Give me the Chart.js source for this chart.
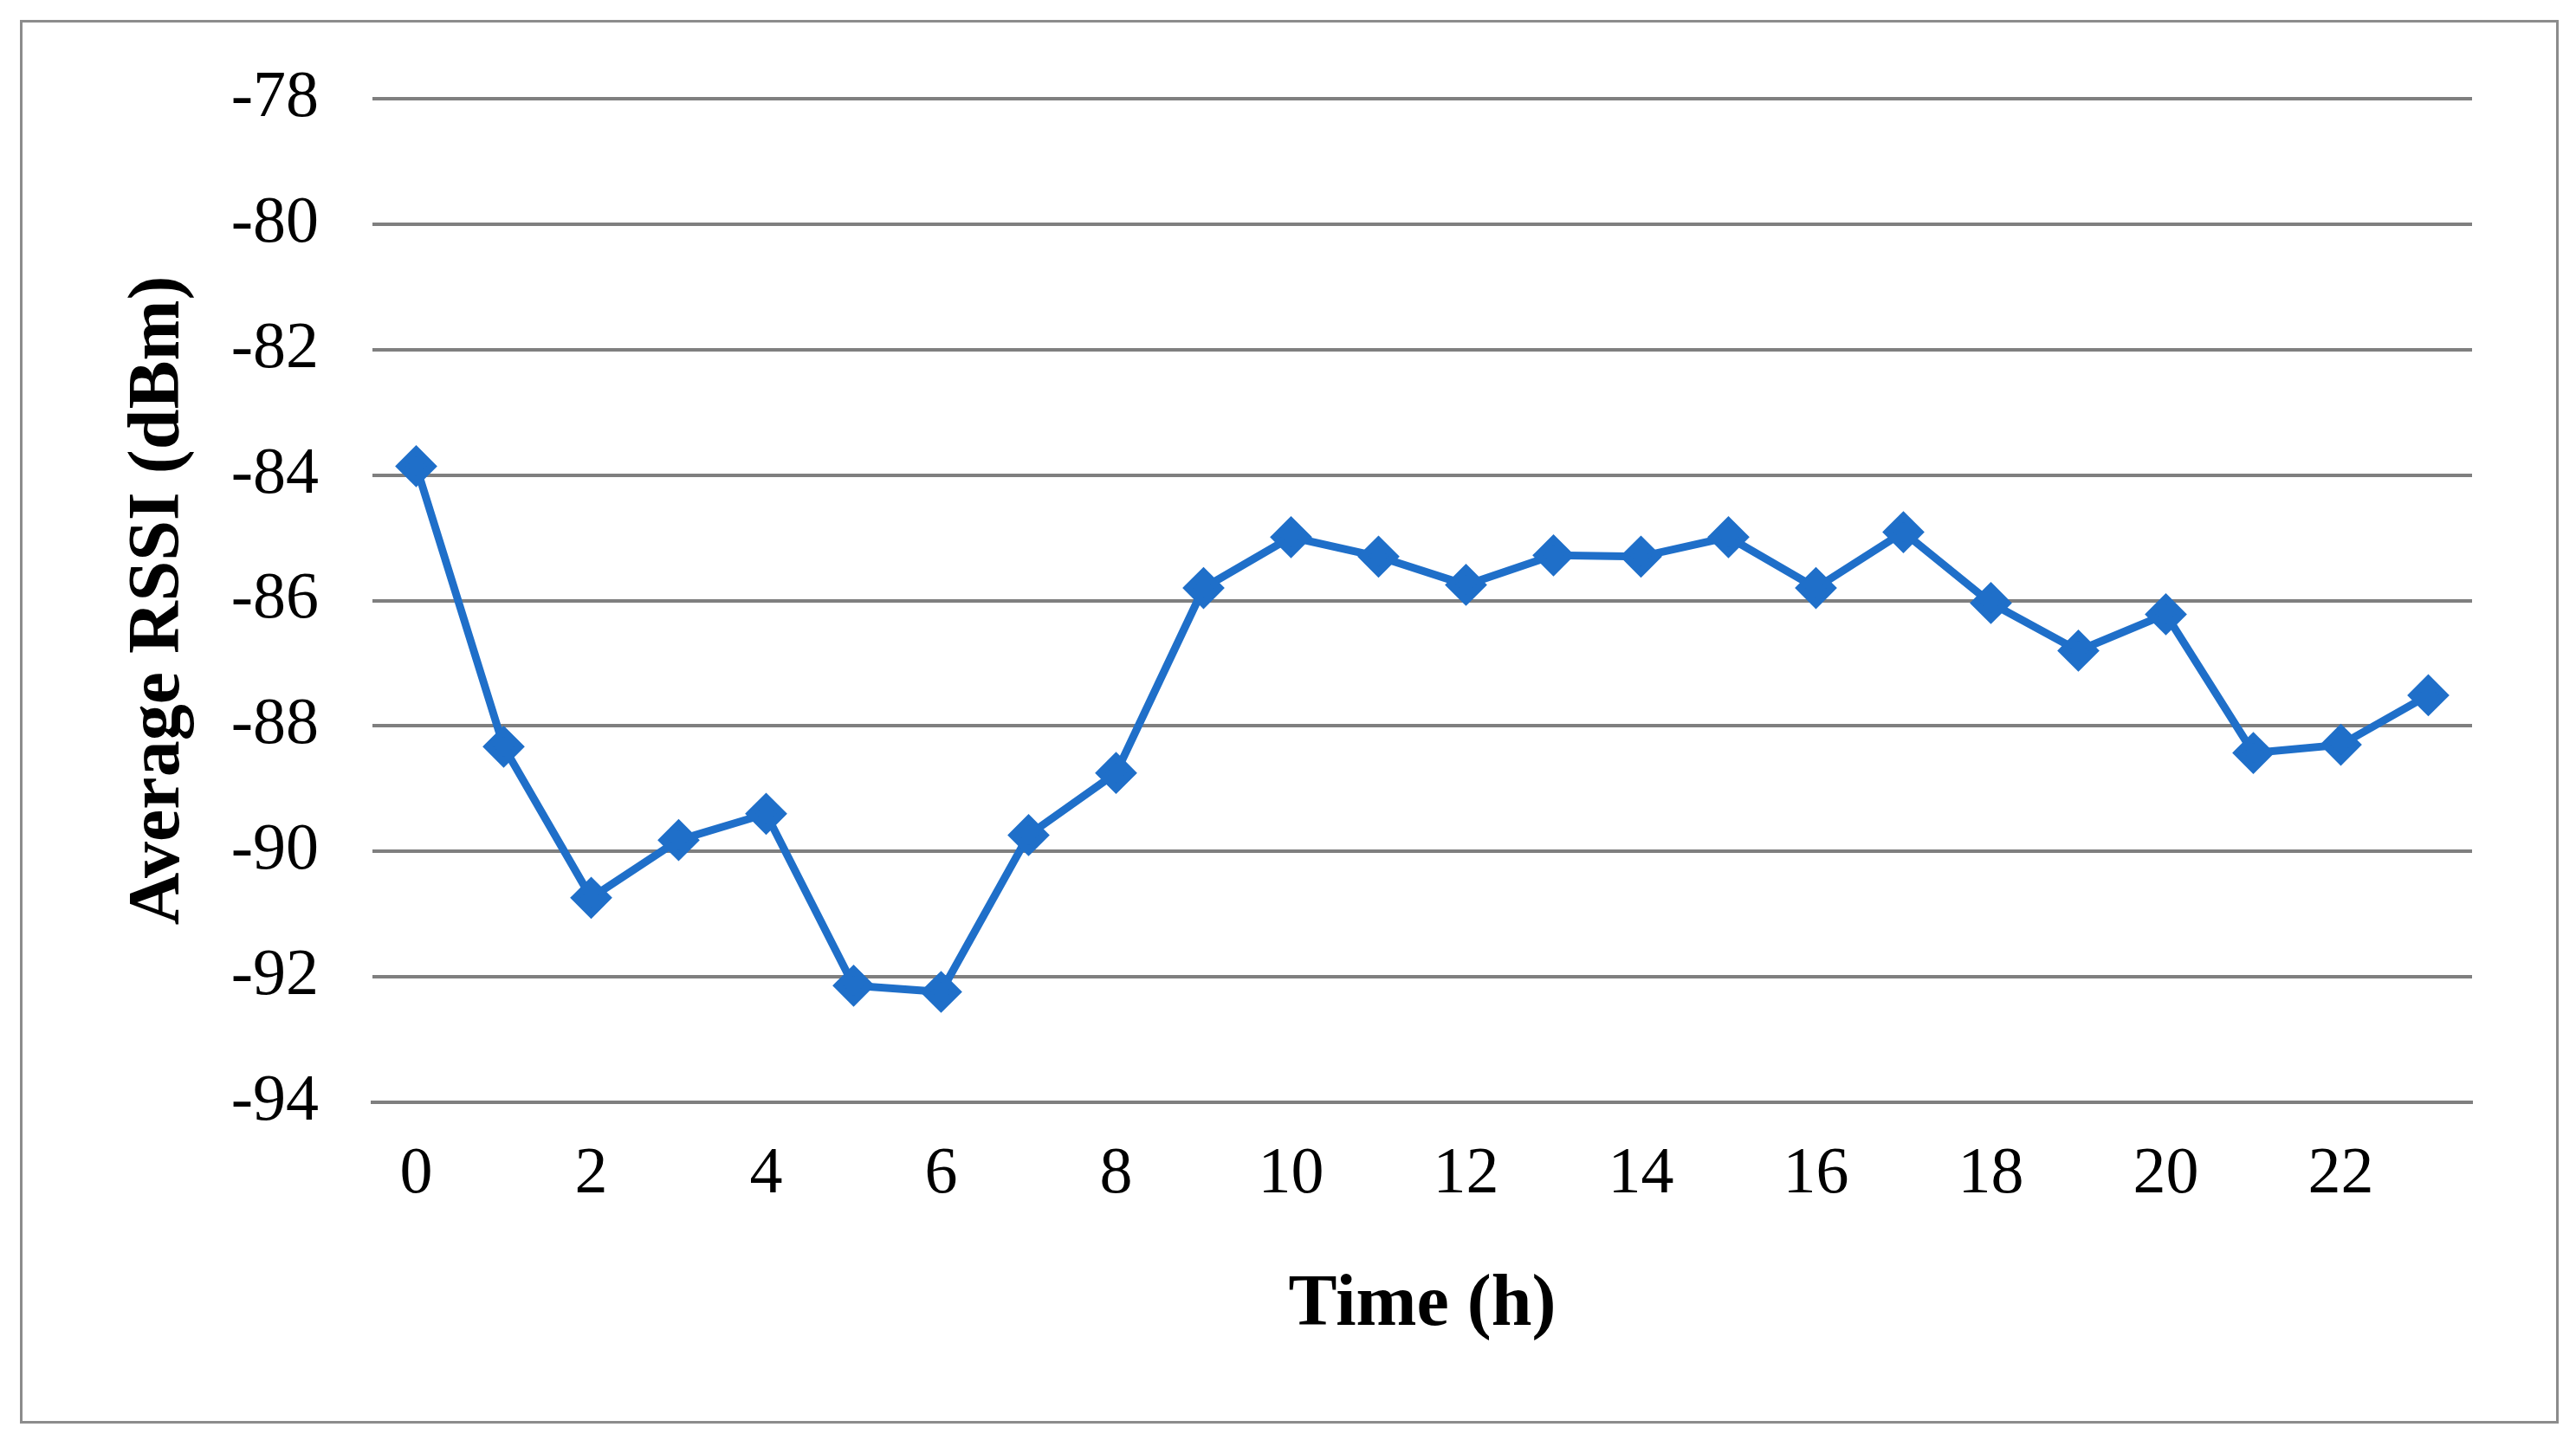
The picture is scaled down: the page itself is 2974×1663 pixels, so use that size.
<!DOCTYPE html>
<html>
<head>
<meta charset="utf-8">
<script src="https://cdn.jsdelivr.net/npm/chart.js@4/dist/chart.umd.min.js"></script>
<style>
  body { margin: 0; background: #fff; }
  #frame { position: absolute; left: 23px; top: 23px; width: 2925px; height: 1615px; border: 3px solid #8c8c8c; }
  #wrap { position: absolute; left: 0; top: 0; width: 2974px; height: 1663px; }
</style>
</head>
<body>
<div id="frame"></div>
<div id="wrap"><canvas id="rssi-chart"></canvas></div>
<script>
// hours of day
const hours = Array.from({ length: 24 }, (_, i) => String(i));
// average RSSI per hour, dBm
const rssi = [-83.86, -88.33, -90.74, -89.82, -89.40, -92.14, -92.24, -89.74, -88.75, -85.80,
  -84.99, -85.30, -85.75, -85.28, -85.30, -84.99, -85.80, -84.91, -86.04, -86.80,
  -86.22, -88.43, -88.30, -87.51];
const yMin = -94, yMax = -78, yStep = 2;

const ctx = document.getElementById('rssi-chart').getContext('2d');
const serif = 'Liberation Serif, Times New Roman, serif';

new Chart(ctx, {
  type: 'line',
  data: {
    labels: hours,
    datasets: [{
      data: rssi,
      borderColor: '#1F6FC9',
      backgroundColor: '#1F6FC9',
      borderWidth: 9,
      pointStyle: 'rectRot',
      pointRadius: 18,
      tension: 0
    }]
  },
  options: {
    responsive: true,
    maintainAspectRatio: false,
    animation: false,
    layout: { padding: { left: 130, right: 120, top: 114, bottom: 100 } },
    plugins: { legend: { display: false }, tooltip: { enabled: false } },
    scales: {
      x: {
        offset: true,
        grid: { display: false },
        border: { color: '#7f7f7f', width: 4 },
        ticks: {
          autoSkip: false,
          maxRotation: 0,
          padding: 30,
          color: '#000',
          font: { family: serif, size: 76 },
          callback: (v, i) => (i % 2 === 0 ? hours[i] : '')
        },
        title: { display: true, text: 'Time (h)', color: '#000', padding: { top: 10 }, font: { family: serif, size: 84, weight: 'bold' } },
        afterFit: s => { s.height = 1663 - 1273 - 100; }
      },
      y: {
        min: yMin,
        max: yMax,
        grid: { color: '#7f7f7f', lineWidth: 4, drawTicks: false },
        border: { display: false },
        ticks: {
          stepSize: yStep,
          padding: 62,
          color: '#000',
          font: { family: serif, size: 76 }
        },
        title: { display: true, text: 'Average RSSI (dBm)', color: '#000', font: { family: serif, size: 84, weight: 'bold' } },
        afterFit: s => { s.width = 430 - 130; }
      }
    }
  }
});
</script>
</body>
</html>
